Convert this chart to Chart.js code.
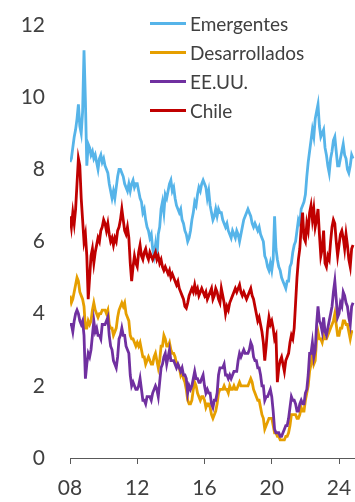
<!DOCTYPE html>
<html>
<head>
<meta charset="utf-8">
<script src="https://cdn.jsdelivr.net/npm/chart.js@4/dist/chart.umd.min.js"></script>
<style>
  html, body { margin: 0; padding: 0; background: #fff; }
  #wrap { position: relative; width: 355px; height: 502px; }
  #legend {
    position: absolute; left: 150px; top: 9px;
    font-family: Lato, "Open Sans", sans-serif; font-size: 19px; color: #404040;
  }
  .item { display: flex; align-items: center; height: 29px; white-space: nowrap; }
  .swatch { width: 36px; height: 3px; margin-right: 4px; }
</style>
</head>
<body>
<div id="wrap">
  <canvas id="chart" width="355" height="502"></canvas>
  <div id="legend"></div>
</div>
<script>
// Monthly series, January 2008 to November 2024 (percent)
const startYear = 2008;
const tickYears = [2008, 2012, 2016, 2020, 2024];
const seriesNames = ['Emergentes', 'Desarrollados', 'EE.UU.', 'Chile'];
const seriesColors = ['#56B4E9', '#E69F00', '#7030A0', '#C00000'];

const emergentes = [
  8.2, 8.3, 8.6, 8.9, 9.1, 9.4, 9.8, 9.2, 9.0, 9.6, 11.3, 9.9,
  8.1, 8.7, 8.6, 8.4, 8.5, 8.3, 8.4, 8.2, 8.0, 8.3, 8.4, 8.2,
  8.3, 8.1, 8.0, 7.9, 7.6, 7.4, 7.2, 7.4, 7.2, 7.5, 7.8, 8.0,
  8.0, 7.9, 7.8, 7.6, 7.5, 7.4, 7.6, 7.4, 7.6, 7.7, 7.5, 7.6,
  7.6, 7.4, 7.2, 7.1, 6.8, 6.9, 6.6, 6.4, 6.3, 6.1, 6.2, 5.8,
  5.6, 5.9, 5.5, 6.2, 6.4, 6.9, 7.1, 6.8, 7.3, 7.2, 7.4, 7.6,
  7.7, 7.4, 7.5, 7.2, 7.0, 6.9, 6.8, 6.9, 6.6, 6.5, 6.3, 6.2,
  6.0, 6.1, 6.3, 6.6, 6.8, 7.1, 7.0, 7.3, 7.5, 7.4, 7.6, 7.7,
  7.6, 7.5, 7.2, 7.4, 7.0, 6.8, 6.6, 6.7, 6.9, 6.7, 6.9, 6.8,
  6.8, 6.6, 6.5, 6.4, 6.5, 6.3, 6.2, 6.1, 6.3, 6.2, 6.1, 6.3,
  6.2, 6.0, 6.2, 6.4, 6.6, 6.7, 6.8, 6.9, 6.8, 6.7, 6.5, 6.4,
  6.5, 6.4, 6.3, 6.4, 6.2, 6.1, 6.0, 5.6, 5.5, 5.3, 5.2, 5.4,
  5.2, 5.5, 6.7, 5.8, 5.5, 5.3, 5.2, 5.0, 4.9, 4.8, 4.7, 4.9,
  4.9, 5.3, 5.4, 5.7, 5.9, 6.0, 6.3, 6.6, 6.5, 6.9, 7.0, 7.1,
  7.3, 7.8, 8.2, 8.5, 8.8, 9.1, 8.9, 9.4, 9.6, 9.8, 9.2, 8.9,
  9.0, 9.1, 8.6, 8.4, 8.1, 7.9, 8.3, 8.5, 8.8, 8.9, 8.5, 8.1,
  8.1, 8.3, 8.5, 8.7, 8.4, 8.3, 8.0, 7.9, 8.1, 8.4, 8.3
];

const desarrollados = [
  4.5, 4.3, 4.4, 4.6, 4.8, 5.0, 4.9, 4.6, 4.5, 4.4, 4.2, 3.6,
  3.6, 3.8, 3.7, 3.8, 4.1, 4.3, 4.1, 4.0, 3.9, 4.0, 4.0, 4.1,
  4.1, 4.1, 4.0, 4.1, 3.7, 3.6, 3.6, 3.4, 3.5, 3.6, 3.9, 4.1,
  4.2, 4.3, 4.2, 4.3, 4.0, 3.9, 3.8, 3.4, 3.3, 3.3, 3.2, 3.1,
  3.2, 3.1, 3.2, 3.0, 2.8, 2.8, 2.6, 2.7, 2.8, 2.7, 2.6, 2.6,
  2.8, 2.9, 2.7, 2.5, 2.7, 3.1, 3.1, 3.4, 3.3, 3.1, 3.1, 3.2,
  3.0, 2.9, 2.9, 2.8, 2.6, 2.6, 2.5, 2.3, 2.4, 2.2, 2.1, 1.9,
  1.6, 1.5, 1.5, 1.6, 1.9, 2.1, 2.0, 1.8, 1.7, 1.6, 1.7, 1.7,
  1.6, 1.4, 1.5, 1.5, 1.4, 1.2, 1.1, 1.2, 1.3, 1.5, 1.8, 1.9,
  1.9, 1.9, 2.0, 1.9, 1.9, 1.8, 2.0, 1.9, 1.9, 2.0, 1.9, 1.9,
  2.0, 2.1, 2.0, 2.0, 2.0, 2.0, 2.0, 2.0, 2.1, 2.2, 2.1, 1.9,
  1.8, 1.7, 1.6, 1.6, 1.4, 1.2, 1.1, 0.8, 0.9, 1.0, 1.1, 1.1,
  1.1, 0.9, 0.7, 0.7, 0.6, 0.6, 0.5, 0.5, 0.5, 0.5, 0.6, 0.6,
  0.7, 0.9, 1.2, 1.2, 1.2, 1.2, 1.1, 1.1, 1.2, 1.4, 1.3, 1.3,
  1.6, 1.8, 2.0, 2.4, 2.6, 2.9, 2.6, 2.7, 3.3, 3.5, 3.3, 3.3,
  3.2, 3.4, 3.3, 3.3, 3.4, 3.5, 3.6, 3.7, 3.8, 4.0, 3.7, 3.4,
  3.4, 3.6, 3.6, 3.8, 3.8, 3.7, 3.7, 3.5, 3.3, 3.5, 3.5
];

const eeuu = [
  3.7, 3.7, 3.5, 3.8, 4.0, 4.1, 4.0, 3.8, 3.7, 3.8, 3.4, 2.2,
  2.6, 2.9, 2.8, 3.0, 3.4, 3.8, 3.5, 3.6, 3.4, 3.4, 3.3, 3.7,
  3.7, 3.7, 3.8, 3.9, 3.4, 3.1, 3.0, 2.7, 2.6, 2.5, 2.8, 3.3,
  3.4, 3.6, 3.4, 3.4, 3.1, 3.0, 2.9, 2.3, 2.0, 2.1, 2.0, 1.9,
  1.9, 2.0, 2.2, 1.9, 1.6, 1.6, 1.5, 1.7, 1.7, 1.7, 1.6, 1.8,
  1.9, 2.0, 1.9, 1.7, 2.1, 2.5, 2.6, 2.8, 2.9, 2.6, 2.8, 3.0,
  2.7, 2.7, 2.7, 2.6, 2.5, 2.6, 2.5, 2.4, 2.5, 2.3, 2.3, 2.2,
  1.8, 2.0, 1.9, 2.0, 2.2, 2.4, 2.2, 2.2, 2.1, 2.1, 2.2, 2.3,
  2.0, 1.8, 1.9, 1.8, 1.8, 1.5, 1.4, 1.6, 1.6, 1.8, 2.3, 2.5,
  2.5, 2.5, 2.6, 2.3, 2.3, 2.2, 2.3, 2.2, 2.3, 2.4, 2.4, 2.4,
  2.7, 2.9, 2.8, 2.9, 3.0, 2.9, 2.9, 2.9, 3.0, 3.2, 3.1, 2.8,
  2.7, 2.7, 2.5, 2.5, 2.3, 2.0, 2.0, 1.6, 1.7, 1.7, 1.8, 1.9,
  1.7, 1.3, 0.8, 0.7, 0.7, 0.7, 0.6, 0.6, 0.7, 0.8, 0.9, 0.9,
  1.1, 1.4, 1.7, 1.6, 1.6, 1.5, 1.3, 1.3, 1.5, 1.6, 1.5, 1.5,
  1.8, 1.9, 2.3, 2.9, 2.9, 3.2, 2.8, 3.0, 3.7, 4.2, 3.8, 3.7,
  3.5, 3.9, 3.5, 3.4, 3.6, 3.8, 4.0, 4.2, 4.6, 4.9, 4.4, 3.9,
  4.0, 4.3, 4.2, 4.6, 4.5, 4.3, 4.2, 3.9, 3.7, 4.2, 4.3
];

const chile = [
  6.7, 6.4, 6.8, 6.5, 6.9, 7.6, 8.3, 8.1, 7.2, 6.6, 6.0, 6.2,
  5.6, 4.4, 5.0, 5.6, 5.8, 5.4, 5.7, 5.9, 6.1, 6.0, 6.3, 6.4,
  6.6, 6.5, 6.3, 6.5, 6.2, 6.0, 6.1, 5.9, 6.1, 6.0, 6.3, 6.4,
  6.6, 6.9, 6.6, 6.3, 6.2, 6.4, 6.1, 5.4, 4.9, 5.3, 5.6, 5.4,
  5.3, 5.7, 5.9, 5.6, 5.5, 5.7, 5.8, 5.6, 5.5, 5.7, 5.6, 5.5,
  5.6, 5.7, 5.5, 5.6, 5.4, 5.5, 5.3, 5.2, 5.3, 5.2, 5.1, 5.2,
  5.0, 5.1, 5.0, 4.9, 4.8, 4.9, 4.7, 4.6, 4.5, 4.4, 4.2, 4.15,
  4.3, 4.5, 4.6, 4.7, 4.6, 4.8, 4.6, 4.7, 4.5, 4.6, 4.7, 4.6,
  4.5, 4.6, 4.4, 4.5, 4.6, 4.7, 4.4, 4.5, 4.7, 4.6, 4.4, 4.3,
  4.7, 4.5, 4.3, 4.0, 4.2, 4.1, 4.3, 4.4, 4.5, 4.6, 4.7, 4.6,
  4.7, 4.8, 4.6, 4.5, 4.6, 4.5, 4.4, 4.5, 4.6, 4.7, 4.5, 4.4,
  4.2, 4.0, 3.8, 3.9, 3.7, 3.5, 3.2, 2.7, 3.1, 3.6, 3.9, 3.7,
  3.8, 3.6, 3.3, 3.4, 2.1, 2.5, 2.7, 2.8, 2.6, 2.4, 2.7, 2.8,
  2.9, 3.2, 3.4, 3.3, 3.6, 4.3, 5.0, 5.5, 5.8, 6.4, 6.8, 6.1,
  6.0, 6.5, 6.3, 6.8, 7.0, 6.6, 6.9, 6.4, 6.6, 6.9, 6.2, 5.6,
  5.8, 6.3, 5.4, 5.3, 5.6, 5.5, 6.0, 6.4, 6.6, 6.5, 6.0, 5.6,
  5.9, 6.2, 6.3, 6.1, 5.8, 6.2, 5.9, 5.5, 5.3, 5.8, 5.9
];

const seriesValues = [emergentes, desarrollados, eeuu, chile];

// Month positions on a year axis (2008.0 = January 2008)
const monthPos = emergentes.map((_, i) => startYear + i / 12);

const inkColor = '#404040';
const axisColor = '#595959';
const tickFont = { family: 'Lato, "Open Sans", sans-serif', size: 21 };

const datasets = seriesNames.map((name, k) => ({
  label: name,
  data: seriesValues[k].map((v, i) => ({ x: monthPos[i], y: v })),
  borderColor: seriesColors[k],
  backgroundColor: seriesColors[k],
  borderWidth: 2.8,
  pointRadius: 0,
  tension: 0,
  // later series are painted above earlier ones
  order: seriesNames.length - k
}));

new Chart(document.getElementById('chart'), {
  type: 'line',
  data: { datasets },
  options: {
    responsive: false,
    devicePixelRatio: 1,
    animation: false,
    layout: { padding: { top: 25, right: 0, bottom: 0, left: 0 } },
    plugins: { legend: { display: false }, tooltip: { enabled: false } },
    scales: {
      x: {
        type: 'linear',
        min: startYear,
        max: 2024.95,
        afterBuildTicks: axis => { axis.ticks = tickYears.map(v => ({ value: v })); },
        afterFit: scale => {
          scale.height = 44;
          scale.paddingLeft = 0;
          scale.paddingRight = 0;
        },
        grid: { display: true, drawOnChartArea: false, drawTicks: true, tickLength: 6, tickColor: axisColor, lineWidth: 1 },
        border: { display: true, color: axisColor, width: 1 },
        ticks: {
          font: tickFont, color: inkColor, padding: 12, maxRotation: 0,
          callback: v => String(v % 100).padStart(2, '0')
        }
      },
      y: {
        min: 0,
        max: 12,
        afterFit: scale => {
          scale.width = 70;
          scale.paddingTop = 0;
          scale.paddingBottom = 0;
        },
        grid: { display: false, drawTicks: false },
        border: { display: false },
        ticks: { stepSize: 2, font: tickFont, color: inkColor, padding: 25 }
      }
    }
  }
});

// Legend in the upper right of the plot
const legend = document.getElementById('legend');
seriesNames.forEach((name, k) => {
  const row = document.createElement('div');
  row.className = 'item';
  const sw = document.createElement('span');
  sw.className = 'swatch';
  sw.style.background = seriesColors[k];
  const label = document.createElement('span');
  label.textContent = name;
  row.appendChild(sw);
  row.appendChild(label);
  legend.appendChild(row);
});
</script>
</body>
</html>
